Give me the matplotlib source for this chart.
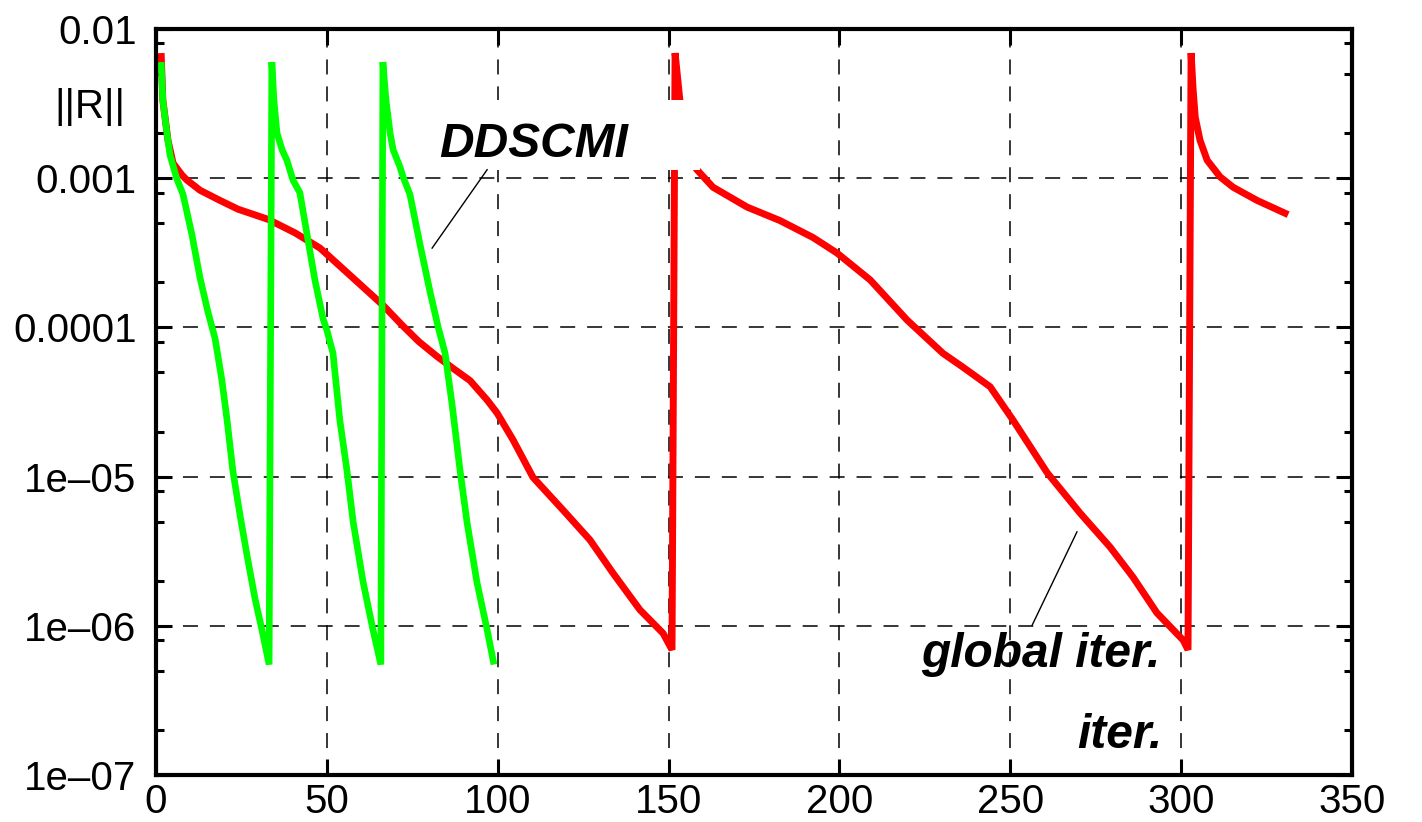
import matplotlib
matplotlib.use("Agg")
import matplotlib.pyplot as plt
from matplotlib.patches import Rectangle
from matplotlib.ticker import FixedLocator, LogLocator, NullFormatter, NullLocator

plt.rcParams['font.family'] = ['Liberation Sans', 'DejaVu Sans']
plt.rcParams['lines.scale_dashes'] = False

# DDSCMI (green) - three sub-cycles
dd_x = [1.5, 2.0, 3.2, 4.1, 6.1, 7.9, 10.5, 12.9, 15.2, 17.3, 19.3, 20.8, 22.5, 24.6, 26.6, 29.0, 31.0, 33.1,
        33.9, 34.5, 35.4, 36.9, 38.3, 40.1, 42.1, 44.2, 46.5, 48.9, 50.0, 51.8, 53.8, 55.9, 57.7, 60.6, 63.5, 65.8,
        66.4, 67.3, 68.5, 69.4, 71.4, 72.3, 74.3, 77.3, 80.2, 82.5, 84.6, 86.6, 89.0, 91.0, 93.9, 96.9, 98.9]
dd_r = [6.0e-3, 3.34e-3, 2.01e-3, 1.43e-3, 9.9e-4, 7.8e-4, 4.2e-4, 2.14e-4, 1.27e-4, 8.4e-5, 4.4e-5, 2.39e-5,
        1.09e-5, 5.5e-6, 3.0e-6, 1.51e-6, 9.4e-7, 5.5e-7,
        6.0e-3, 3.34e-3, 2.01e-3, 1.55e-3, 1.32e-3, 9.7e-4, 8.0e-4, 4.2e-4, 2.08e-4, 1.14e-4, 9.6e-5, 6.7e-5,
        2.39e-5, 1.09e-5, 4.97e-6, 1.97e-6, 9.4e-7, 5.5e-7,
        6.0e-3, 3.34e-3, 2.01e-3, 1.55e-3, 1.19e-3, 1.02e-3, 7.8e-4, 3.56e-4, 1.73e-4, 1.02e-4, 6.7e-5, 3.1e-5,
        1.09e-5, 4.97e-6, 1.97e-6, 9.4e-7, 5.5e-7]

# global iterations (red)
gl_x = [1.5, 2.0, 3.5, 5.0, 7.6, 9.1, 12.9, 18.7, 24.0, 32.8, 40.7, 48.0, 57.7, 66.4, 72.3, 77.0, 82.2, 87.0,
        91.9, 96.9, 99.8, 104.5, 110.3, 119.1, 127.0, 133.7, 141.6, 148.4, 151.0,
        151.9, 153.3, 155.1, 156.3, 158.3, 163.0, 173.0, 182.6, 192.3, 199.3, 209.0, 219.8, 230.3, 236.2, 244.1,
        250.8, 260.8, 270.4, 279.2, 285.9, 292.9, 300.6, 302.0,
        302.9, 303.5, 304.1, 305.5, 307.6, 311.4, 315.2, 322.2, 331.3]
gl_r = [6.9e-3, 3.34e-3, 1.80e-3, 1.26e-3, 1.05e-3, 9.7e-4, 8.3e-4, 7.1e-4, 6.2e-4, 5.3e-4, 4.3e-4, 3.40e-4,
        2.14e-4, 1.41e-4, 1.02e-4, 8.0e-5, 6.4e-5, 5.3e-5, 4.4e-5, 3.26e-5, 2.67e-5, 1.76e-5, 9.9e-6, 5.97e-6,
        3.76e-6, 2.26e-6, 1.28e-6, 8.9e-7, 6.9e-7,
        6.9e-3, 3.34e-3, 1.80e-3, 1.32e-3, 1.14e-3, 8.7e-4, 6.4e-4, 5.2e-4, 4.0e-4, 3.15e-4, 2.08e-4, 1.12e-4,
        6.7e-5, 5.4e-5, 4.0e-5, 2.39e-5, 1.06e-5, 5.7e-6, 3.37e-6, 2.12e-6, 1.22e-6, 8.0e-7, 6.9e-7,
        6.9e-3, 3.9e-3, 2.57e-3, 1.80e-3, 1.32e-3, 1.02e-3, 8.7e-4, 7.1e-4, 5.7e-4]

xticks = [0, 50, 100, 150, 200, 250, 300, 350]
yticks = [1e-7, 1e-6, 1e-5, 1e-4, 1e-3, 1e-2]
ylabels = ['1e\u201307', '1e\u201306', '1e\u201305', '0.0001', '0.001', '0.01']

fig = plt.figure(figsize=(14.22, 8.22), dpi=100)
ax = fig.add_axes([0.1097, 0.0572, 0.8411, 0.9075])

ax.plot(gl_x, gl_r, color='#ff0000', lw=5, solid_joinstyle='bevel', solid_capstyle='butt', zorder=2)
ax.plot(dd_x, dd_r, color='#00ff00', lw=4.8, solid_joinstyle='bevel', solid_capstyle='butt', zorder=2)

ax.set_yscale('log')
ax.set_xlim(0, 350)
ax.set_ylim(1e-7, 1e-2)

ax.xaxis.set_major_locator(FixedLocator(xticks))
ax.xaxis.set_minor_locator(NullLocator())
ax.set_xticklabels([str(v) for v in xticks])
ax.yaxis.set_major_locator(FixedLocator(yticks))
ax.set_yticklabels(ylabels)
ax.yaxis.set_minor_locator(LogLocator(base=10, subs=[2, 5, 8]))
ax.yaxis.set_minor_formatter(NullFormatter())

ax.tick_params(which='both', direction='in', top=True, right=True, width=2.2, colors='black')
ax.tick_params(which='major', length=11.5, labelsize=29)
ax.tick_params(which='minor', length=6)
ax.tick_params(axis='y', which='major', pad=14)
ax.tick_params(axis='x', which='major', pad=6)
for s in ax.spines.values():
    s.set_linewidth(3)

ax.set_axisbelow(True)
ax.grid(True, which='major', color='black', lw=1.1, ls=(0, (10.8, 8.6)))

# white box behind the DDSCMI label
ax.add_patch(Rectangle((80.2, 1.135e-3), 79.0, 3.34e-3 - 1.135e-3, facecolor='white',
                       edgecolor='none', zorder=3))

lab = dict(fontsize=34.5, fontweight='bold', style='italic', color='black', zorder=4)
ax.text(83.0, 1.39e-3, 'DDSCMI', ha='left', va='baseline', **lab)
ax.text(294.0, 5.3e-7, 'global iter.', ha='right', va='baseline', **lab)
ax.text(294.5, 1.52e-7, 'iter.', ha='right', va='baseline', **lab)

ax.plot([96.9, 80.8], [1.14e-3, 3.4e-4], color='black', lw=1.0, zorder=4)
ax.plot([269.5, 256.4], [4.26e-6, 1.01e-6], color='black', lw=1.0, zorder=4)

fig.text(90 / 1422, 1 - 107 / 822, '||R||', fontsize=29, ha='center', va='center')

fig.savefig('out.png', dpi=100)
